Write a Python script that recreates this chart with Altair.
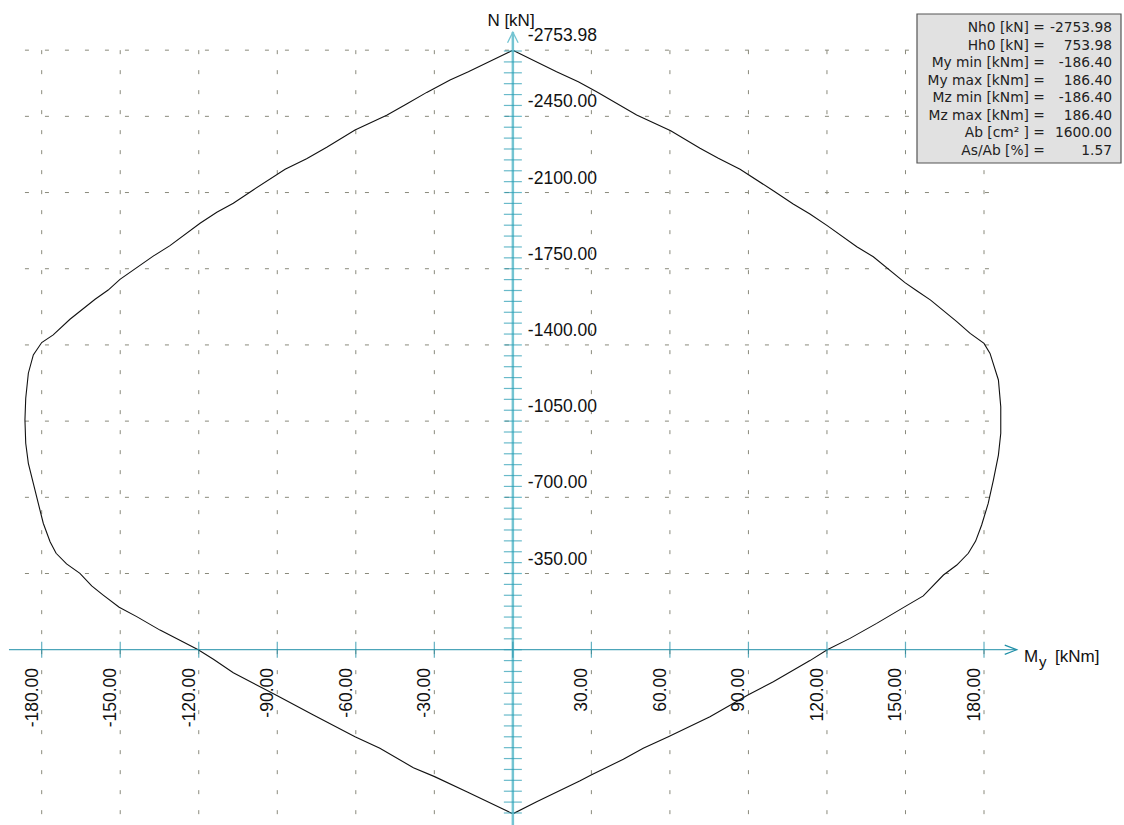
import altair as alt
import pandas as pd

# N–My interaction contour: right branch from the compression apex down to the
# tension apex, then the left branch back up to the apex.
my_right = [0.0, 16.7, 25.0, 32.0, 47.3, 60.3, 71.5, 78.5, 86.8, 99.5, 107.1, 113.5,
            120.1, 131.4, 137.7, 149.8, 154.3, 159.6, 169.6, 174.7, 180.0, 182.3,
            185.5, 186.4, 186.4, 185.5, 183.6, 181.6, 179.1, 176.8, 174.0, 169.6,
            164.5, 156.8, 149.8, 139.0, 128.8, 120.1, 113.5, 99.5, 89.8, 75.3, 59.4,
            49.8, 42.2, 29.9, 25.7, 9.1, 0.0]
n_right = [-2753.98, -2655, -2609, -2563, -2456, -2384, -2303, -2257, -2207, -2108,
           -2047, -2001, -1948, -1851, -1805, -1686, -1649, -1606, -1507, -1453,
           -1407, -1361, -1239, -1116, -994, -894, -780, -672, -573, -499, -443,
           -389, -343, -247, -198, -121, -52, 0, 50, 147, 208, 308, 400, 453, 503,
           576, 602, 698, 753.98]
my_left = [-17.6, -29.9, -38.0, -50.8, -60.3, -76.2, -89.8, -106.8, -114.4, -120.2,
           -134.8, -143.7, -150.4, -156.5, -160.9, -165.4, -170.5, -174.5, -176.8,
           -179.4, -181.3, -183.2, -185.1, -186.1, -186.4, -186.1, -185.1, -183.2,
           -180.0, -175.6, -169.2, -159.6, -154.6, -150.1, -137.4, -131.0, -119.5,
           -113.1, -106.8, -99.2, -87.0, -78.8, -71.1, -60.3, -48.2, -40.6, -32.9,
           -24.0, -17.0, 0.0]
n_left = [652, 583, 542, 453, 400, 300, 213, 106, 44, 0, -90, -152, -195, -251, -293,
          -351, -394, -443, -496, -581, -672, -764, -856, -948, -1055, -1155, -1270,
          -1354, -1411, -1446, -1518, -1610, -1652, -1701, -1808, -1856, -1959, -2009,
          -2051, -2112, -2207, -2255, -2308, -2387, -2455, -2507, -2560, -2617, -2655,
          -2753.98]

# Grid and axis ticks
grid_my = [-180, -150, -120, -90, -60, -30, 30, 60, 90, 120, 150, 180]
axis_tick_my = [-180, -150, -120, -90, -60, -30, 0, 30, 60, 90, 120, 150, 180]
grid_n = [-2753.98, -2450, -2100, -1750, -1400, -1050, -700, -350]
minor_n = list(range(-2750, 751, 50))
grid_my_extent = [-186.40, 186.40]
axis_my_extent = [-192.5, 192.5]
axis_n_top = -2837

# Summary table
summary_labels = ["Nh0 [kN]", "Hh0 [kN]", "My min [kNm]", "My max [kNm]",
                  "Mz min [kNm]", "Mz max [kNm]", "Ab [cm² ]", "As/Ab [%]"]
summary_values = ["-2753.98", "753.98", "-186.40", "186.40", "-186.40", "186.40",
                  "1600.00", "1.57"]

W, H = 1124, 825
X = alt.Scale(domain=[-195.93, 233.48], nice=False, zero=False)
Y = alt.Scale(domain=[-2984.4, 805.2], reverse=True, nice=False, zero=False)

GRID = "#8a8a7c"
AXIS_DARK = "#1f8fa7"
AXIS_LIGHT = "#74c4d2"
TICK = "#2a9db3"
FONT = "Liberation Sans"
BOX_FONT = "DejaVu Sans"

curve = pd.DataFrame({
    "my": my_right + my_left,
    "n": n_right + n_left,
})
curve["i"] = range(len(curve))

hgrid_df = pd.DataFrame({"n": grid_n, "x0": grid_my_extent[0], "x1": grid_my_extent[1]})
vgrid_df = pd.DataFrame({"my": grid_my, "ntop": grid_n[0]})
haxis_df = pd.DataFrame({"x0": [axis_my_extent[0]], "x1": [axis_my_extent[1]], "n": [0]})
vaxis_df = pd.DataFrame({"my": [0], "ntop": [axis_n_top]})
minor_df = pd.DataFrame({"my": 0, "n": minor_n})
xtick_df = pd.DataFrame({"my": axis_tick_my, "n": 0})
xlab_df = pd.DataFrame({"my": grid_my, "label": [f"{v:.2f}" for v in grid_my]})
ylab_df = pd.DataFrame({"n": grid_n, "my": 0, "label": [f"{v:.2f}" for v in grid_n]})
box_df = pd.DataFrame({"label": summary_labels, "value": summary_values,
                       "eq": "=", "row": range(len(summary_labels))})
one = pd.DataFrame({"k": [0]})

xq = lambda f: alt.X(f, type="quantitative", scale=X, axis=None)
yq = lambda f: alt.Y(f, type="quantitative", scale=Y, axis=None)

hgrid = alt.Chart(hgrid_df).mark_rule(color=GRID, strokeWidth=1, strokeDash=[4, 16]).encode(
    x=xq("x0"), x2="x1", y=yq("n"))
vgrid = alt.Chart(vgrid_df).mark_rule(color=GRID, strokeWidth=1, strokeDash=[4, 16]).encode(
    x=xq("my"), y=yq("ntop"), y2=alt.value(H))

contour = alt.Chart(curve).mark_line(color="#111111", strokeWidth=1.1).encode(
    x=xq("my"), y=yq("n"), order=alt.Order("i:Q"))

haxis = alt.Chart(haxis_df).mark_rule(color=AXIS_DARK, strokeWidth=1).encode(
    x=xq("x0"), x2="x1", y=yq("n"))
vaxis = alt.Chart(vaxis_df).mark_rule(color=AXIS_LIGHT, strokeWidth=2.5).encode(
    x=xq("my"), y=yq("ntop"), y2=alt.value(H))
minor = alt.Chart(minor_df).mark_tick(orient="horizontal", size=18, thickness=1.2,
                                      color=TICK).encode(x=xq("my"), y=yq("n"))
xticks = alt.Chart(xtick_df).mark_tick(orient="vertical", size=16, thickness=1.2,
                                       color=AXIS_DARK).encode(x=xq("my"), y=yq("n"))

up_arrow = alt.Chart(vaxis_df).mark_point(
    shape="M-1,2L0,0L1,2", filled=False, size=112, color=AXIS_LIGHT, strokeWidth=1.3,
    opacity=1).encode(x=xq("my"), y=yq("ntop"))
right_arrow = alt.Chart(haxis_df).mark_point(
    shape="M-2.6,-1L0,0L-2.6,1", filled=False, size=85, color=AXIS_DARK, strokeWidth=1.2,
    opacity=1).encode(x=xq("x1"), y=yq("n"))

ylabels = alt.Chart(ylab_df).mark_text(
    align="left", baseline="alphabetic", dx=15, dy=-9, font=FONT, fontSize=17.5,
    color="#111111").encode(x=xq("my"), y=yq("n"), text="label:N")
xlabels = alt.Chart(xlab_df).mark_text(
    angle=270, align="right", baseline="bottom", font=FONT, fontSize=17.5,
    color="#111111").encode(x=xq("my"), y=alt.value(668), text="label:N")

n_title = alt.Chart(one).mark_text(
    align="center", baseline="alphabetic", font=FONT, fontSize=17, color="#111111"
).encode(x=alt.value(511), y=alt.value(26), text=alt.value("N [kN]"))
m_title = alt.Chart(one).mark_text(
    align="left", baseline="alphabetic", font=FONT, fontSize=17, color="#111111"
).encode(x=alt.value(1024), y=alt.value(662), text=alt.value("M"))
m_sub = alt.Chart(one).mark_text(
    align="left", baseline="alphabetic", font=FONT, fontSize=15, color="#111111"
).encode(x=alt.value(1039), y=alt.value(667), text=alt.value("y"))
m_unit = alt.Chart(one).mark_text(
    align="left", baseline="alphabetic", font=FONT, fontSize=17, color="#111111"
).encode(x=alt.value(1055), y=alt.value(662), text=alt.value("[kNm]"))

box = alt.Chart(one).mark_rect(fill="#e1e1e1", stroke="#555555", strokeWidth=1.2).encode(
    x=alt.value(917), x2=alt.value(1121), y=alt.value(14), y2=alt.value(163))
box_base = alt.Chart(box_df).transform_calculate(py="32 + 17.5 * datum.row")
box_text = dict(baseline="alphabetic", font=BOX_FONT, fontSize=13.8, color="#222222")
box_labels = box_base.mark_text(align="right", **box_text).encode(
    x=alt.value(1029), y=alt.Y("py:Q", scale=None, axis=None), text="label:N")
box_eq = box_base.mark_text(align="center", **box_text).encode(
    x=alt.value(1039), y=alt.Y("py:Q", scale=None, axis=None), text="eq:N")
box_values = box_base.mark_text(align="right", **box_text).encode(
    x=alt.value(1112), y=alt.Y("py:Q", scale=None, axis=None), text="value:N")

chart = alt.layer(
    hgrid, vgrid, contour, haxis, vaxis, minor, xticks, up_arrow, right_arrow,
    ylabels, xlabels, n_title, m_title, m_sub, m_unit, box, box_labels, box_eq, box_values
).properties(
    width=W, height=H, padding=0, autosize="none", background="white"
).configure_view(stroke=None)

chart.save("out.html", embed_options={"renderer": "svg", "actions": False})
